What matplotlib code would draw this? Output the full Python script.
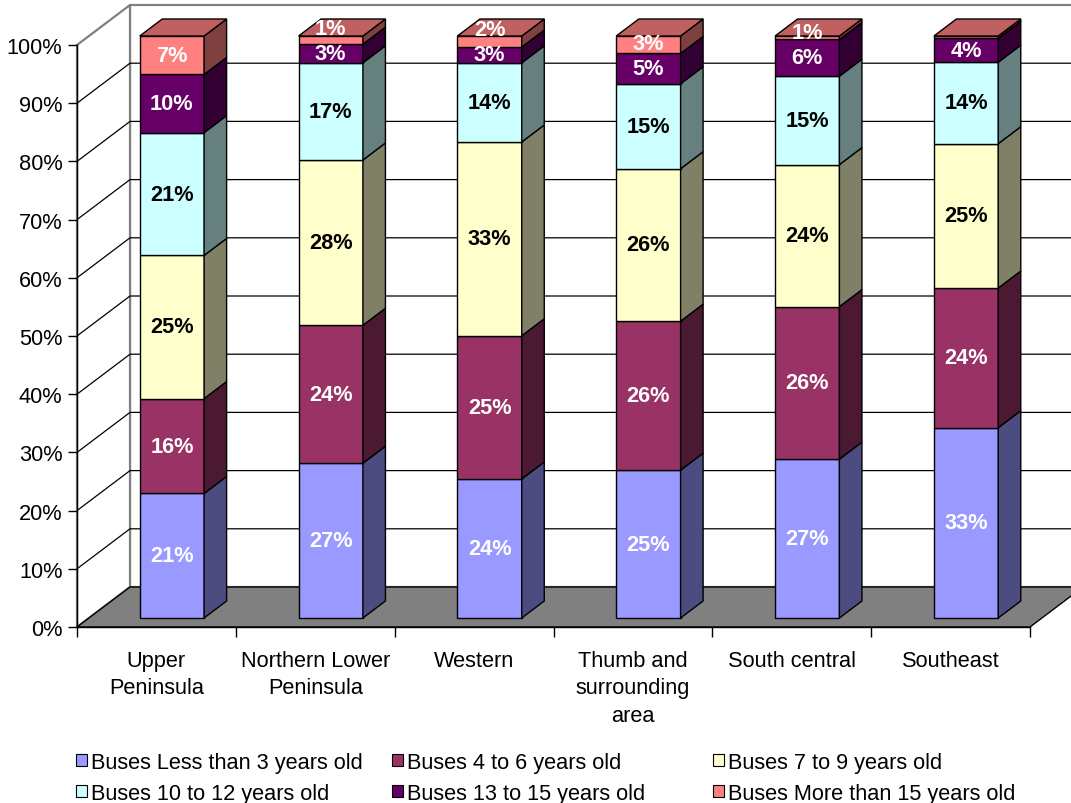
import numpy as np
import matplotlib
matplotlib.use("Agg")
import matplotlib.pyplot as plt
from matplotlib.patches import Polygon, Rectangle
from matplotlib.ticker import FixedLocator, FuncFormatter

# ---- data -----------------------------------------------------------------
regions = ["Upper\nPeninsula", "Northern Lower\nPeninsula", "Western",
           "Thumb and\nsurrounding\narea", "South central", "Southeast"]

series_names = ["Buses Less than 3 years old", "Buses 4 to 6 years old",
                "Buses 7 to 9 years old", "Buses 10 to 12 years old",
                "Buses 13 to 15 years old", "Buses More than 15 years old"]

less_than_3 = [21.4, 26.6, 23.9, 25.4, 27.3, 32.7]
years_4_6 = [16.3, 23.7, 24.6, 25.6, 26.2, 24.0]
years_7_9 = [24.6, 28.4, 33.3, 26.2, 24.4, 24.8]
years_10_12 = [21.1, 16.7, 13.6, 14.6, 15.2, 14.0]
years_13_15 = [10.0, 3.2, 2.7, 5.2, 6.3, 4.1]
more_than_15 = [6.6, 1.4, 1.9, 3.0, 0.6, 0.4]

yticks = list(range(0, 101, 10))

# ---- styling --------------------------------------------------------------
front_colors = ["#9999FF", "#993366", "#FFFFCC", "#CCFFFF", "#660066", "#FF8080"]
side_colors = ["#4C4C80", "#4C1933", "#808066", "#668080", "#330033", "#804040"]
top_color = "#C06060"
label_colors = ["white", "white", "black", "black", "white", "white"]

plt.rcParams["font.family"] = ["Liberation Sans", "DejaVu Sans"]
FS = 15.7

W, H = 1071, 804
fig = plt.figure(figsize=(W / 100, H / 100), dpi=100)
fig.patch.set_facecolor("white")
ax = fig.add_axes([77 / W, 176 / H, 953 / W, 582 / H])
n = len(regions)
ax.set_xlim(0, n)
ax.set_ylim(0, 100)
ax.patch.set_visible(False)

# pseudo-3D projection: depth z in [0, 1] shifts right and up
DEPTH_X = 53 / (953 / n)
DEPTH_Y = 40 / 5.82


def proj(x, y, z):
    return (x + z * DEPTH_X, y + z * DEPTH_Y)


def face(points, **kw):
    poly = Polygon([proj(*p) for p in points], closed=True, clip_on=False, **kw)
    ax.add_patch(poly)
    return poly


# walls and floor
face([(0, 0, 1), (n, 0, 1), (n, 100, 1), (0, 100, 1)],
     facecolor="white", edgecolor="#808080", lw=1.6, zorder=0.5)
face([(0, 0, 0), (0, 0, 1), (0, 100, 1), (0, 100, 0)],
     facecolor="white", edgecolor="#808080", lw=1.6, zorder=0.5)

for v in yticks[1:-1]:
    pts = [proj(0, v, 0), proj(0, v, 1), proj(n, v, 1)]
    ax.plot([p[0] for p in pts], [p[1] for p in pts], color="black", lw=0.9,
            zorder=0.6, clip_on=False, solid_capstyle="butt")

face([(0, 0, 0), (n, 0, 0), (n, 0, 1), (0, 0, 1)],
     facecolor="#808080", edgecolor="black", lw=1.0, zorder=0.7)

# ---- stacked 100% bars ------------------------------------------------------
values = np.array([less_than_3, years_4_6, years_7_9, years_10_12,
                   years_13_15, more_than_15], dtype=float)
shares = values / values.sum(axis=0) * 100

BAR_L, BAR_R = 0.32, 0.725
Z_F, Z_B = 0.225, 0.65
MIN_GAP = 4.3

for i in range(n):
    xl, xr = i + BAR_L, i + BAR_R
    base = 0.0
    prev_label = -100.0
    for s in range(len(series_names)):
        h = shares[s, i]
        top = base + h
        face([(xl, base, Z_F), (xr, base, Z_F), (xr, top, Z_F), (xl, top, Z_F)],
             facecolor=front_colors[s], edgecolor="black", lw=1.0, zorder=2)
        face([(xr, base, Z_F), (xr, base, Z_B), (xr, top, Z_B), (xr, top, Z_F)],
             facecolor=side_colors[s], edgecolor="black", lw=1.0, zorder=2)
        pct = values[s, i]
        if round(pct) >= 1:
            ly = max(base + h / 2, prev_label + MIN_GAP)
            prev_label = ly
            px, py = proj((xl + xr) / 2, ly, Z_F)
            ax.text(px, py, f"{pct:.0f}%", ha="center", va="center",
                    fontsize=FS, fontweight="bold", color=label_colors[s],
                    zorder=5, clip_on=False)
        base = top
    face([(xl, base, Z_F), (xr, base, Z_F), (xr, base, Z_B), (xl, base, Z_B)],
         facecolor=top_color, edgecolor="black", lw=1.0, zorder=2)

# ---- axes -------------------------------------------------------------------
for side in ("top", "right"):
    ax.spines[side].set_visible(False)
for side in ("left", "bottom"):
    ax.spines[side].set_color("black")
    ax.spines[side].set_linewidth(1.0)

ax.yaxis.set_major_locator(FixedLocator(yticks))
ax.yaxis.set_major_formatter(FuncFormatter(lambda v, _: f"{v:.0f}%"))
ax.tick_params(axis="y", direction="out", length=6.5, width=1.0,
               labelsize=FS, pad=4.0, colors="black")

ax.xaxis.set_major_locator(FixedLocator(np.arange(n + 1)))
ax.xaxis.set_major_formatter(FuncFormatter(lambda v, _: ""))
ax.set_xticks(np.arange(n) + 0.5, minor=True)
ax.set_xticklabels(regions, minor=True, fontsize=FS, linespacing=1.4)
ax.tick_params(axis="x", which="major", direction="out", length=7.5, width=1.0)
ax.tick_params(axis="x", which="minor", length=0, pad=16.5)

# ---- legend: three columns, two rows ----------------------------------------
handles = [Rectangle((0, 0), 1, 1, facecolor=c, edgecolor="black", lw=0.8)
           for c in front_colors]
col_left = [76, 392, 713]
for col in range(3):
    idx = [col, col + 3]
    fig.legend([handles[k] for k in idx], [series_names[k] for k in idx],
               ncol=1, loc="upper left",
               bbox_to_anchor=(col_left[col] / W, 1 - 753 / H),
               frameon=False, fontsize=FS, handlelength=0.5, handleheight=0.5,
               handletextpad=0.2, labelspacing=0.45,
               borderpad=0, borderaxespad=0)

fig.savefig("out.png", dpi=100, facecolor="white")
